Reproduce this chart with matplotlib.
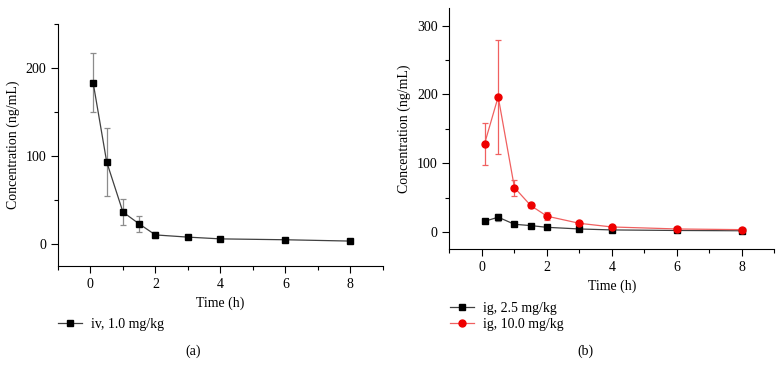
import matplotlib.pyplot as plt
from matplotlib.ticker import MultipleLocator

plt.rcParams['font.family'] = ['Liberation Serif', 'DejaVu Serif']
plt.rcParams['font.size'] = 10

# Sampling times (h)
times = [0.083, 0.5, 1, 1.5, 2, 3, 4, 6, 8]

# (a) iv, 1.0 mg/kg
iv_mean = [183.5, 93.5, 36.5, 23, 10.5, 8, 6, 5, 3.5]
iv_err = [33.5, 39, 15, 9.5, 3, 1, 1, 1, 1]

# (b) ig, 2.5 mg/kg and ig, 10.0 mg/kg
ig25_mean = [15.5, 21.5, 11.2, 9.3, 6.8, 4.4, 3.0, 2.2, 1.8]
ig25_err = [2, 5, 2, 1.5, 1, 0.8, 0.5, 0.5, 0.5]
ig10_mean = [128.5, 196.5, 64.5, 38.5, 23, 12.6, 7.3, 4.4, 3.4]
ig10_err = [30.5, 83, 11.5, 3, 6, 2, 1.5, 1, 1]

labels_a = ["iv, 1.0 mg/kg"]
labels_b = ["ig, 2.5 mg/kg", "ig, 10.0 mg/kg"]


def style_axis(ax, ymax, ystep):
    ax.spines['top'].set_visible(False)
    ax.spines['right'].set_visible(False)
    ax.set_xlim(-1, 9)
    ax.set_ylim(-25, ymax)
    ax.xaxis.set_major_locator(MultipleLocator(2))
    ax.xaxis.set_minor_locator(MultipleLocator(1))
    ax.yaxis.set_major_locator(MultipleLocator(ystep))
    ax.yaxis.set_minor_locator(MultipleLocator(ystep / 2))
    ax.tick_params(which='major', length=5, width=0.8, direction='out')
    ax.tick_params(which='minor', length=3, width=0.8, direction='out')
    ax.set_xlabel("Time (h)")
    ax.set_ylabel("Concentration (ng/mL)")


fig = plt.figure(figsize=(7.83, 3.77), dpi=100)

# Panel (a)
ax1 = fig.add_axes([0.074, 0.294, 0.415, 0.642])
iv = ax1.errorbar(times, iv_mean, yerr=iv_err, color='#404040', lw=0.9,
                  marker='s', ms=4, mfc='black', mec='black',
                  ecolor='#8c8c8c', elinewidth=0.9, capsize=2.5, capthick=0.9)
style_axis(ax1, 250, 100)
ax1.legend([iv[0]], labels_a, loc='upper left',
           bbox_to_anchor=(58 / 783, 1 - 318 / 377),
           bbox_transform=fig.transFigure, frameon=False, borderpad=0,
           borderaxespad=0, handlelength=1.75, handletextpad=0.6)
fig.text(193 / 783, 1 - 351 / 377, "(a)", ha='center', va='center')

# Panel (b)
ax2 = fig.add_axes([0.574, 0.339, 0.415, 0.639])
low = ax2.errorbar(times, ig25_mean, yerr=ig25_err, color='#404040', lw=0.9,
                   marker='s', ms=4, mfc='black', mec='black',
                   ecolor='#8c8c8c', elinewidth=0.9, capsize=2.5, capthick=0.9)
high = ax2.errorbar(times, ig10_mean, yerr=ig10_err, color='#f06060', lw=0.9,
                    marker='o', ms=5, mfc='#ee0000', mec='#ee0000',
                    ecolor='#f06060', elinewidth=0.9, capsize=2.5, capthick=0.9)
style_axis(ax2, 325, 100)
ax2.legend([low[0], high[0]], labels_b, loc='upper left',
           bbox_to_anchor=(450 / 783, 1 - 302 / 377),
           bbox_transform=fig.transFigure, frameon=False, borderpad=0,
           borderaxespad=0, handlelength=1.75, handletextpad=0.6,
           labelspacing=0.2)
fig.text(585 / 783, 1 - 351 / 377, "(b)", ha='center', va='center')

fig.savefig("out.png", dpi=100)
